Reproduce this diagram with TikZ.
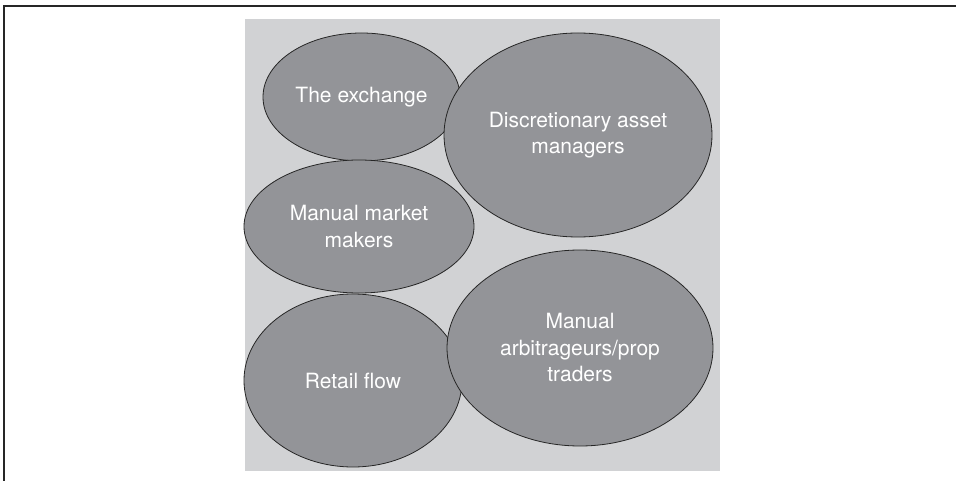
\documentclass[tikz,border=0pt]{standalone}
\usepackage{fontspec}
\setmainfont{TeX Gyre Heros}
\usetikzlibrary{shapes.geometric}
\definecolor{panelgray}{HTML}{D1D2D4}
\definecolor{blobgray}{HTML}{939498}

\begin{document}
\begin{tikzpicture}[x=1pt,y=-1pt,
        player/.style={ellipse,draw=black!85,line width=0.8pt,fill=blobgray,
            text=white,align=center,inner sep=0pt,
            font=\fontsize{21}{26.5}\selectfont}]

            \useasboundingbox (0,0) rectangle (956,481);

            % Frame (top and left only)
            \coordinate (frametop) at (956,6.3);
            \coordinate (framecorner) at (3.7,6.3);
            \coordinate (framebottom) at (3.7,481);
            \draw[line width=2pt,black!85] (frametop) -- (framecorner) -- (framebottom);

            % Shaded panel
            \fill[panelgray] (245,19) rectangle (720,470.5);

            % Market participants
            \node[player,minimum width=197pt,minimum height=128pt] (exchange) at (361.5,97) {The exchange};
            \node[player,minimum width=268pt,minimum height=204pt] (assetmgr) at (578,135) {Discretionary asset\\managers};
            \node[player,minimum width=230pt,minimum height=133pt] (marketmkr) at (359,226.5) {Manual market\\makers};
            \node[player,minimum width=218pt,minimum height=173pt] (retail) at (353,380.5) {Retail flow};
            \node[player,minimum width=266pt,minimum height=196pt] (arbs) at (580,348) {Manual\\arbitrageurs/prop\\traders};

        \end{tikzpicture}
\end{document}
